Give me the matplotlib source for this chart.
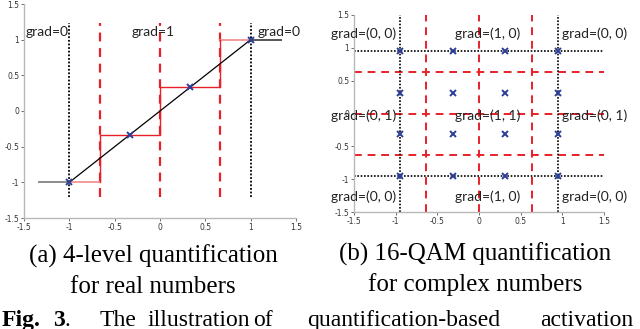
import numpy as np
import matplotlib
matplotlib.use('Agg')
from matplotlib import pyplot as plt

# (a) 4-level quantification for real numbers
levels_a = [-1, -1/3, 1/3, 1]
bounds_a = [-2/3, 0, 2/3]
clip_a = [-1, 1]
ident_x = [-1, 1]
flat_lo_x = [-4/3, -1]
flat_hi_x = [1, 4/3]
step_x = [-2/3, -2/3, 0, 0, 2/3, 2/3]
step_y = [-1, -1/3, -1/3, 1/3, 1/3, 1]
labels_a = ["grad=0", "grad=1", "grad=0"]
labels_a_x = [-1.245, -0.07, 1.31]
labels_a_y = [1.11, 1.11, 1.11]

# (b) 16-QAM quantification for complex numbers
levels_b = [-0.949, -0.316, 0.316, 0.949]
bounds_b = [-0.632, 0, 0.632]
clip_b = [-0.949, 0.949]
labels_b = ["grad=(0, 0)", "grad=(1, 0)", "grad=(0, 0)",
            "grad=(0, 1)", "grad=(1, 1)", "grad=(0, 1)",
            "grad=(0, 0)", "grad=(1, 0)", "grad=(0, 0)"]
labels_b_x = [-1.38, 0.1, 1.39] * 3
labels_b_y = [1.22] * 3 + [-0.04] * 3 + [-1.26] * 3

ticks = [-1.5, -1, -0.5, 0, 0.5, 1, 1.5]
tick_txt = ["-1.5", "-1", "-0.5", "0", "0.5", "1", "1.5"]

red = "#e8202a"
blue = "#2b3f99"
sans = ["Lato", "DejaVu Sans"]


def style_axes(ax):
    ax.set_xlim(-1.5, 1.5)
    ax.set_ylim(-1.5, 1.5)
    ax.set_xticks(ticks)
    ax.set_xticklabels(tick_txt)
    ax.set_yticks(ticks)
    ax.set_yticklabels(tick_txt)
    ax.tick_params(labelsize=5.5, length=2, width=0.6, pad=1.5,
                   colors="#555555", labelcolor="#333333")
    for s in ["top", "right"]:
        ax.spines[s].set_visible(False)
    for s in ["left", "bottom"]:
        ax.spines[s].set_color("#b8b8b8")
        ax.spines[s].set_linewidth(1.0)
    ax.set_facecolor("none")


fig = plt.figure(figsize=(6.4, 3.29), dpi=100)

#--- left panel
ax1 = fig.add_axes([24/640, 1 - 218/329, 272/640, 214/329])
style_axes(ax1)
ax1.plot(flat_lo_x, [-1, -1], color="#8c8c8c", lw=1.4, zorder=2)
ax1.plot(flat_hi_x, [1, 1], color="#555555", lw=1.4, zorder=2)
ax1.plot(ident_x, ident_x, color="black", lw=0.9, zorder=3)
ax1.plot([-1, -2/3], [-1, -1], color="#f28a8a", lw=1.2, zorder=2)
ax1.plot([2/3, 1], [1, 1], color="#f28a8a", lw=1.2, zorder=2)
ax1.plot(step_x, step_y, color=red, lw=1.0, zorder=2)
for b in bounds_a:
    ax1.plot([b, b], [-1.2, 1.23], color=red, lw=1.6, ls=(0, (4, 3)), zorder=1)
for c in clip_a:
    ax1.plot([c, c], [-1.2, 1.23], color="black", lw=1.3, ls=(0, (1, 1)), zorder=1)
ax1.plot(levels_a, levels_a, ls="none", marker="x", ms=5, mew=1.4,
         color=blue, zorder=4)
for t, x, y in zip(labels_a, labels_a_x, labels_a_y):
    ax1.text(x, y, t, ha="center", va="center", fontsize=10,
             family=sans, color="#222222", zorder=5)

#--- right panel
ax2 = fig.add_axes([354/640, 1 - 212/329, 250/640, 197/329])
style_axes(ax2)
for b in bounds_b:
    ax2.plot([b, b], [-1.5, 1.5], color=red, lw=1.4, ls=(0, (4, 3)), zorder=1)
    ax2.plot([-1.5, 1.5], [b, b], color=red, lw=1.4, ls=(0, (4, 3)), zorder=1)
for c in clip_b:
    ax2.plot([c, c], [-1.5, 1.5], color="black", lw=1.2, ls=(0, (1, 1)), zorder=1)
    ax2.plot([-1.5, 1.5], [c, c], color="black", lw=1.2, ls=(0, (1, 1)), zorder=1)
gx, gy = np.meshgrid(levels_b, levels_b)
ax2.plot(gx.ravel(), gy.ravel(), ls="none", marker="x", ms=4.5, mew=1.4,
         color=blue, zorder=4)
for t, x, y in zip(labels_b, labels_b_x, labels_b_y):
    ax2.text(x, y, t, ha="center", va="center", fontsize=10,
             family=sans, color="#222222", zorder=5)

#--- captions
serif = "Liberation Serif"
fig.text(153/640, 1 - 256/329, "(a) 4-level quantification", ha="center",
         va="center", fontsize=18, family=serif)
fig.text(153/640, 1 - 287/329, "for real numbers", ha="center",
         va="center", fontsize=18, family=serif)
fig.text(475/640, 1 - 254/329, "(b) 16-QAM quantification", ha="center",
         va="center", fontsize=18, family=serif)
fig.text(475/640, 1 - 285/329, "for complex numbers", ha="center",
         va="center", fontsize=18, family=serif)

# justified last line, partly cut off by the bottom edge
words = ["Fig.", "3", ".", "The", "illustration", "of",
         "quantification-based", "activation"]
word_x = [2, 53, 64, 100, 148, 253, 307, 540]
for w, x in zip(words, word_x):
    bold = "bold" if w in ("Fig.", "3") else "normal"
    fig.text(x/640, 1 - 326/329, w, ha="left", va="baseline",
             fontsize=17, family=serif, weight=bold)

fig.savefig("out.png", dpi=100)
